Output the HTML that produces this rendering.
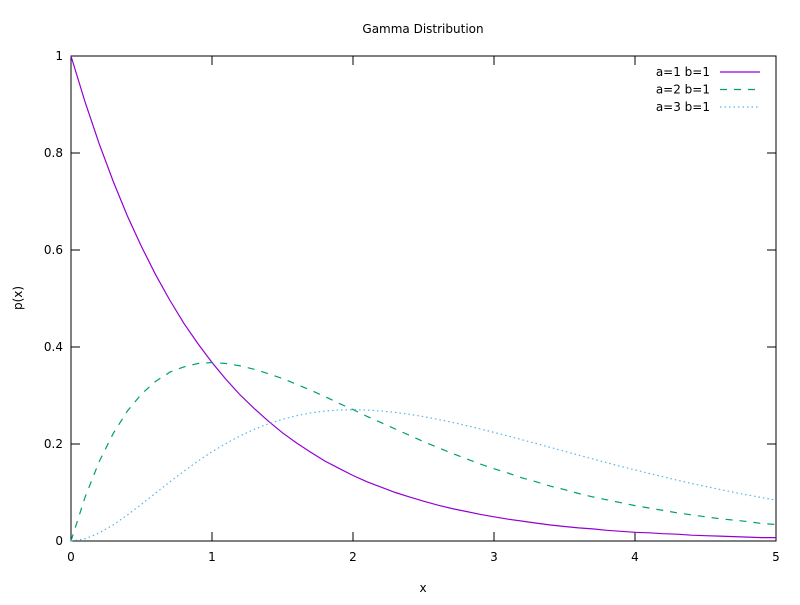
<!DOCTYPE html>
<html><head><meta charset="utf-8"><style>
body{margin:0;background:#fff;}
svg text{font-family:"DejaVu Sans","Liberation Sans",sans-serif;font-size:12px;fill:#000;}
</style></head><body>
<svg id="chart" width="800" height="600" xmlns="http://www.w3.org/2000/svg"></svg>
<script>
const xValues=[0,0.1,0.2,0.3,0.4,0.5,0.6,0.7,0.8,0.9,1,1.1,1.2,1.3,1.4,1.5,1.6,1.7,1.8,1.9,2,2.1,2.2,2.3,2.4,2.5,2.6,2.7,2.8,2.9,3,3.1,3.2,3.3,3.4,3.5,3.6,3.7,3.8,3.9,4,4.1,4.2,4.3,4.4,4.5,4.6,4.7,4.8,4.9,5];
const seriesA1=[1,.905,.819,.741,.670,.607,.549,.497,.449,.407,.368,.333,.301,.273,.247,.223,.202,.183,.165,.150,.135,.122,.111,.100,.091,.082,.074,.067,.061,.055,.050,.045,.041,.037,.033,.030,.027,.025,.022,.020,.018,.017,.015,.014,.012,.011,.010,.009,.008,.007,.007];
const seriesA2=[0,.0905,.164,.222,.268,.303,.329,.348,.359,.366,.368,.366,.361,.354,.345,.335,.323,.311,.298,.284,.271,.257,.244,.231,.218,.205,.193,.181,.170,.159,.149,.140,.130,.122,.113,.106,.098,.091,.085,.079,.073,.068,.063,.058,.054,.050,.046,.043,.040,.036,.034];
const seriesA3=[0,.0045,.0164,.0333,.0536,.0758,.0988,.1217,.1438,.1647,.184,.2013,.2169,.2303,.2417,.251,.2584,.2641,.2678,.270,.2707,.270,.2681,.2652,.2613,.2565,.251,.245,.2384,.2314,.224,.2165,.2087,.2008,.1929,.185,.1771,.1692,.1615,.1539,.1465,.1393,.1323,.1254,.1188,.1125,.1063,.1005,.0948,.0894,.0842];
const xTicks=[0,1,2,3,4,5];
const yTicks=[0,0.2,0.4,0.6,0.8,1];
const yTickLabels=["0","0.2","0.4","0.6","0.8","1"];
const seriesNames=["a=1 b=1","a=2 b=1","a=3 b=1"];

const L=71,R=776,T=56,B=541;
const sx=v=>L+(v-0)/(5-0)*(R-L);
const sy=v=>B-(v-0)/(1-0)*(B-T);
const svg=document.getElementById('chart');
const NS='http://www.w3.org/2000/svg';
function mk(tag,attrs,parent){const e=document.createElementNS(NS,tag);for(const k in attrs)e.setAttribute(k,attrs[k]);(parent||svg).appendChild(e);return e;}

let t=mk('text',{x:423,y:33,'text-anchor':'middle'});t.textContent='Gamma Distribution';



xTicks.forEach(v=>{
  const x=sx(v);
  let a=mk('line',{x1:x,y1:B,x2:x,y2:B-9,stroke:'#000'});
  
  
  let b=mk('line',{x1:x,y1:T,x2:x,y2:T+9,stroke:'#000'});
  
  
  let l=mk('text',{x:x,y:B+20,'text-anchor':'middle'});l.textContent=String(v);
  
  
});
yTicks.forEach((v,i)=>{
  const y=sy(v);
  let a=mk('line',{x1:L,y1:y,x2:L+9,y2:y,stroke:'#000'});
  
  
  let b=mk('line',{x1:R,y1:y,x2:R-9,y2:y,stroke:'#000'});
  
  
  let l=mk('text',{x:L-8,y:y+4,'text-anchor':'end'});l.textContent=yTickLabels[i];
  
  
});
let fr=mk('rect',{x:L,y:T,width:R-L,height:B-T,fill:'none',stroke:'#000'});



let xl=mk('text',{x:423,y:592,'text-anchor':'middle'});xl.textContent='x';


let yl=mk('text',{x:22,y:298,'text-anchor':'middle',transform:'rotate(-90 22 298)'});yl.textContent='p(x)';



const styles=[{c:'#9400d3',d:''},{c:'#009e73',d:'7,7'},{c:'#56b4e9',d:'1.5,3'}];
[seriesA1,seriesA2,seriesA3].forEach((s,i)=>{
  const pts=s.map((v,j)=>sx(xValues[j]).toFixed(1)+','+sy(v).toFixed(1)).join(' ');
  const p=mk('polyline',{points:pts,fill:'none',stroke:styles[i].c,'stroke-width':1.2,'stroke-dasharray':styles[i].d});
  
  
  const ly=72+i*17.5;
  const lt=mk('text',{x:710,y:ly+4,'text-anchor':'end'});lt.textContent=seriesNames[i];
  
  
  const ll=mk('line',{x1:720,y1:ly,x2:760,y2:ly,stroke:styles[i].c,'stroke-width':1.2,'stroke-dasharray':styles[i].d});
  
  
});
</script>
</body></html>
